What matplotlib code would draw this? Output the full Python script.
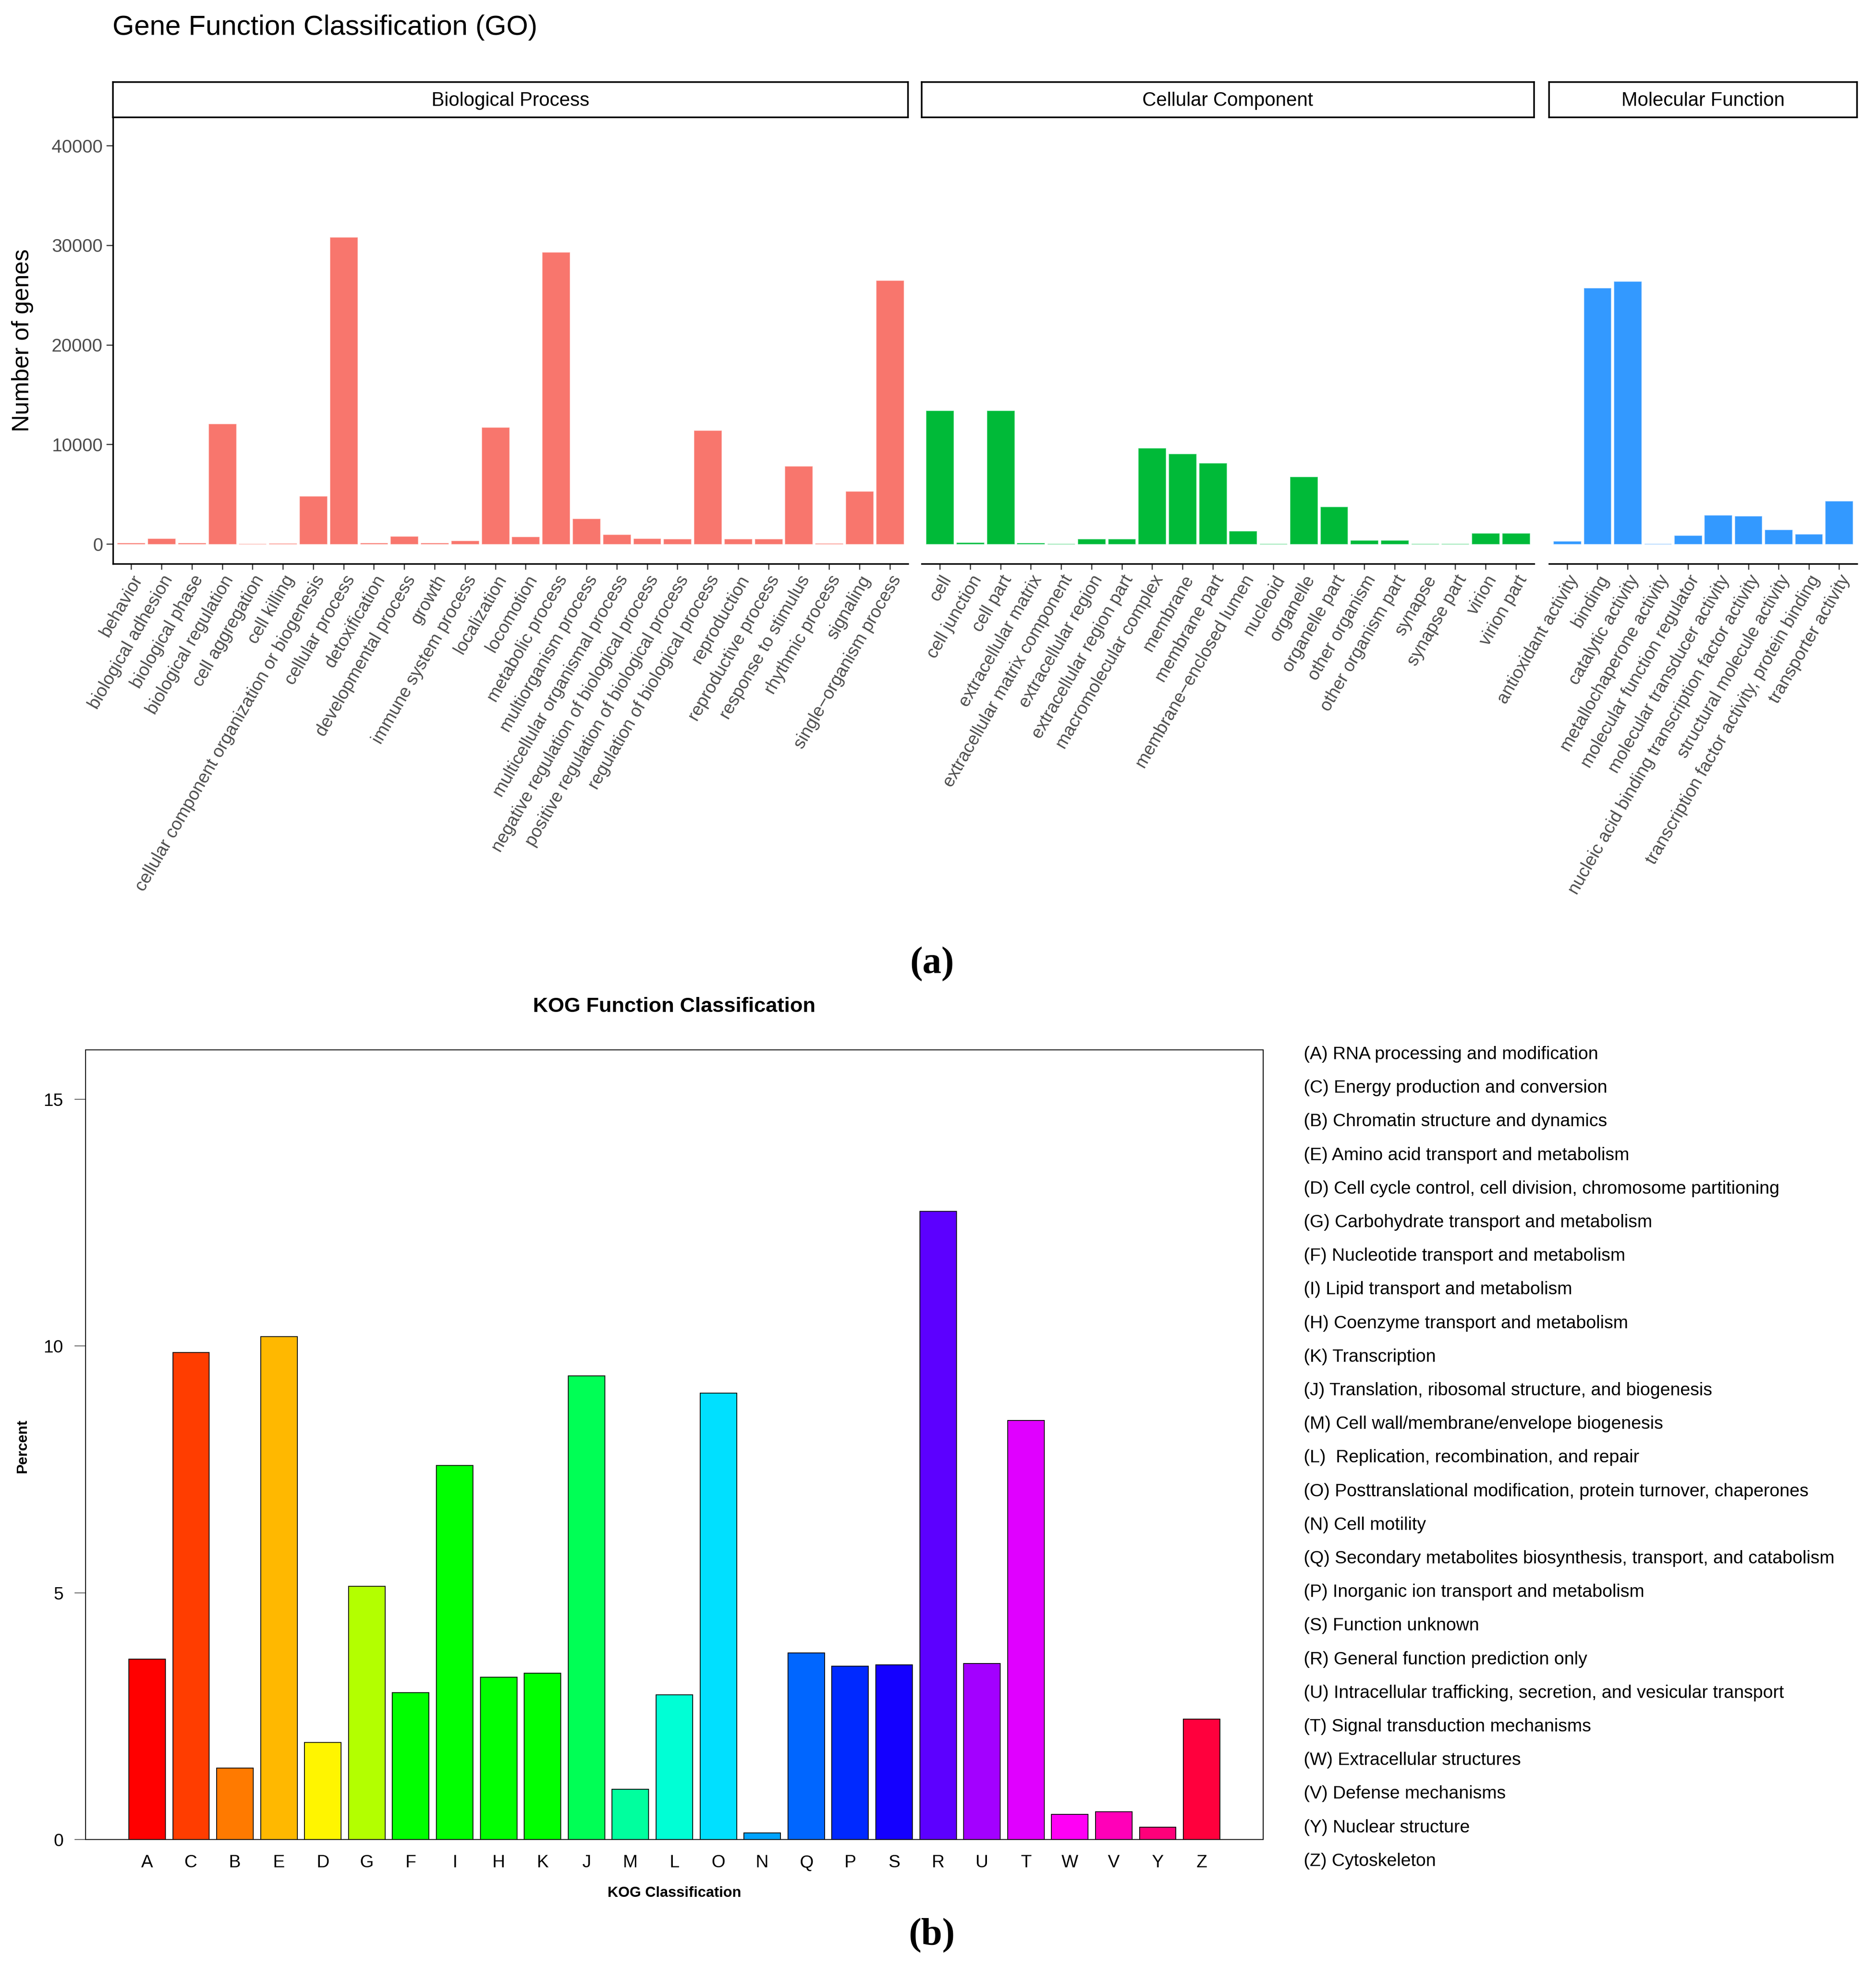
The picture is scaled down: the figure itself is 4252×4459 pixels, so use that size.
import matplotlib.pyplot as plt

W, H = 4252, 4459
DPI = 100

# ---- GO data ----
bp_terms = ['behavior', 'biological adhesion', 'biological phase', 'biological regulation',
            'cell aggregation', 'cell killing', 'cellular component organization or biogenesis',
            'cellular process', 'detoxification', 'developmental process', 'growth',
            'immune system process', 'localization', 'locomotion', 'metabolic process',
            'multiorganism process', 'multicellular organismal process',
            'negative regulation of biological process', 'positive regulation of biological process',
            'regulation of biological process', 'reproduction', 'reproductive process',
            'response to stimulus', 'rhythmic process', 'signaling', 'single\u2212organism process']
bp_counts = [100, 550, 80, 12030, 10, 60, 4800, 30800, 70, 770, 70, 290, 11700, 700, 29300,
             2530, 910, 550, 480, 11400, 480, 480, 7800, 30, 5250, 26450]

cc_terms = ['cell', 'cell junction', 'cell part', 'extracellular matrix',
            'extracellular matrix component', 'extracellular region', 'extracellular region part',
            'macromolecular complex', 'membrane', 'membrane part', 'membrane\u2212enclosed lumen',
            'nucleoid', 'organelle', 'organelle part', 'other organism', 'other organism part',
            'synapse', 'synapse part', 'virion', 'virion part']
cc_counts = [13370, 130, 13370, 100, 5, 490, 490, 9600, 9020, 8110, 1270, 5, 6750, 3730,
             360, 360, 20, 20, 1070, 1070]

mf_terms = ['antioxidant activity', 'binding', 'catalytic activity', 'metallochaperone activity',
            'molecular function regulator', 'molecular transducer activity',
            'nucleic acid binding transcription factor activity', 'structural molecule activity',
            'transcription factor activity, protein binding', 'transporter activity']
mf_counts = [260, 25700, 26350, 10, 840, 2890, 2790, 1430, 970, 4280]

go_yticks = [0, 10000, 20000, 30000, 40000]

# ---- KOG data ----
kog_codes = ['A', 'C', 'B', 'E', 'D', 'G', 'F', 'I', 'H', 'K', 'J', 'M', 'L', 'O', 'N',
             'Q', 'P', 'S', 'R', 'U', 'T', 'W', 'V', 'Y', 'Z']
kog_percent = [3.66, 9.87, 1.45, 10.19, 1.97, 5.13, 2.98, 7.58, 3.29, 3.37, 9.39, 1.02,
               2.93, 9.05, 0.13, 3.78, 3.51, 3.54, 12.73, 3.57, 8.49, 0.51, 0.56, 0.25, 2.44]
kog_colours = ['#FF0000', '#FF3D00', '#FF7A00', '#FFB800', '#FFF500', '#B3FF00', '#00FF00',
               '#00FF00', '#00FF00', '#00FF00', '#00FF55', '#00FF9E', '#00FFD5', '#00E0FF',
               '#00A3FF', '#0066FF', '#0029FF', '#1400FF', '#5C00FF', '#A300FF', '#E000FF',
               '#FF00F5', '#FF00B8', '#FF007A', '#FF003D']
kog_names = ['(A) RNA processing and modification',
             '(C) Energy production and conversion',
             '(B) Chromatin structure and dynamics',
             '(E) Amino acid transport and metabolism',
             '(D) Cell cycle control, cell division, chromosome partitioning',
             '(G) Carbohydrate transport and metabolism',
             '(F) Nucleotide transport and metabolism',
             '(I) Lipid transport and metabolism',
             '(H) Coenzyme transport and metabolism',
             '(K) Transcription',
             '(J) Translation, ribosomal structure, and biogenesis',
             '(M) Cell wall/membrane/envelope biogenesis',
             '(L)  Replication, recombination, and repair',
             '(O) Posttranslational modification, protein turnover, chaperones',
             '(N) Cell motility',
             '(Q) Secondary metabolites biosynthesis, transport, and catabolism',
             '(P) Inorganic ion transport and metabolism',
             '(S) Function unknown',
             '(R) General function prediction only',
             '(U) Intracellular trafficking, secretion, and vesicular transport',
             '(T) Signal transduction mechanisms',
             '(W) Extracellular structures',
             '(V) Defense mechanisms',
             '(Y) Nuclear structure',
             '(Z) Cytoskeleton']


def box(x0, y0, x1, y1):
    # pixel box (top-left origin) -> figure fraction rect
    return [x0 / W, 1 - y1 / H, (x1 - x0) / W, (y1 - y0) / H]


def fx(x):
    return x / W


def fy(y):
    return 1 - y / H


plt.rcParams['font.family'] = ['Liberation Sans', 'DejaVu Sans']
fig = plt.figure(figsize=(W / DPI, H / DPI), dpi=DPI)

# ================= (a) GO =================
fig.text(fx(255), fy(63), 'Gene Function Classification (GO)', fontsize=45.5,
         ha='left', va='center')

go_panels = [
    ('Biological Process', bp_terms, bp_counts, '#F8766D', '#FCA8A2', 256, 2058),
    ('Cellular Component', cc_terms, cc_counts, '#00BA38', '#5FD98A', 2089, 3477),
    ('Molecular Function', mf_terms, mf_counts, '#3399FF', '#8CC4FF', 3511, 4209),
]
panel_top, panel_bottom = 266, 1278

for i, (name, terms, counts, colour, edge, x0, x1) in enumerate(go_panels):
    ax = fig.add_axes(box(x0, panel_top, x1, panel_bottom))
    xs = list(range(len(terms)))
    ax.bar(xs, counts, width=0.9, color=colour, edgecolor=edge, linewidth=0.8)
    ax.set_xlim(-0.6, len(terms) - 0.4)
    ax.set_ylim(-1993, 42835)
    ax.set_xticks(xs)
    ax.set_xticklabels(terms, rotation=60, ha='right', va='top', rotation_mode='anchor',
                       fontsize=29, color='#4D4D4D')
    ax.tick_params(axis='x', length=9, width=1.8, color='#333333', pad=5)
    ax.spines['top'].set_visible(False)
    ax.spines['right'].set_visible(False)
    ax.spines['bottom'].set_linewidth(2.5)
    if i == 0:
        ax.set_yticks(go_yticks)
        ax.set_yticklabels([str(v) for v in go_yticks])
        ax.tick_params(axis='y', length=10.5, width=1.8, color='#333333', pad=6,
                       labelsize=30, labelcolor='#4D4D4D')
        ax.spines['left'].set_linewidth(2.5)
    else:
        ax.spines['left'].set_visible(False)
        ax.set_yticks([])

    strip = fig.add_axes(box(x0, 186, x1, panel_top))
    strip.set_xticks([])
    strip.set_yticks([])
    for s in strip.spines.values():
        s.set_linewidth(2.6)
    strip.text(0.5, 0.47, name, ha='center', va='center', fontsize=31.5,
               transform=strip.transAxes)

fig.text(fx(51), fy(772), 'Number of genes', rotation=90, ha='center', va='center',
         fontsize=39)

fig.text(fx(2112), fy(2185), '(a)', ha='center', va='center', fontsize=62,
         fontweight='bold', family=['Liberation Serif', 'DejaVu Serif'])

# ================= (b) KOG =================
kx0, ky0, kx1, ky1 = 194, 2380, 2863, 4170
kax = fig.add_axes(box(kx0, ky0, kx1, ky1))
kxs = list(range(len(kog_codes)))
kax.bar(kxs, kog_percent, width=0.833, color=kog_colours, edgecolor='black', linewidth=1.3)
kax.set_xlim(-1.40, 25.40)
kax.set_ylim(0, 16)
kax.set_yticks([0, 5, 10, 15])
kax.set_yticklabels(['0', '5', '10', '15'])
kax.tick_params(axis='y', length=18, width=1.3, color='#555555', pad=18, labelsize=29)
kax.set_xticks(kxs)
kax.set_xticklabels(kog_codes, fontsize=29)
kax.tick_params(axis='x', length=0, pad=24)
for s in kax.spines.values():
    s.set_linewidth(1.5)

fig.text(fx((kx0 + kx1) / 2), fy(2282), 'KOG Function Classification', ha='center',
         va='center', fontsize=34, fontweight='bold')
fig.text(fx((kx0 + kx1) / 2), fy(4292), 'KOG Classification', ha='center', va='center',
         fontsize=24, fontweight='bold')
fig.text(fx(51), fy(3278), 'Percent', rotation=90, ha='center', va='center',
         fontsize=24, fontweight='bold')

for j, label in enumerate(kog_names):
    fig.text(fx(2955), fy(2390 + j * 76.2), label, ha='left', va='center', fontsize=29.3)

fig.text(fx(2112), fy(4387), '(b)', ha='center', va='center', fontsize=62,
         fontweight='bold', family=['Liberation Serif', 'DejaVu Serif'])

fig.savefig('out.png', dpi=DPI)
